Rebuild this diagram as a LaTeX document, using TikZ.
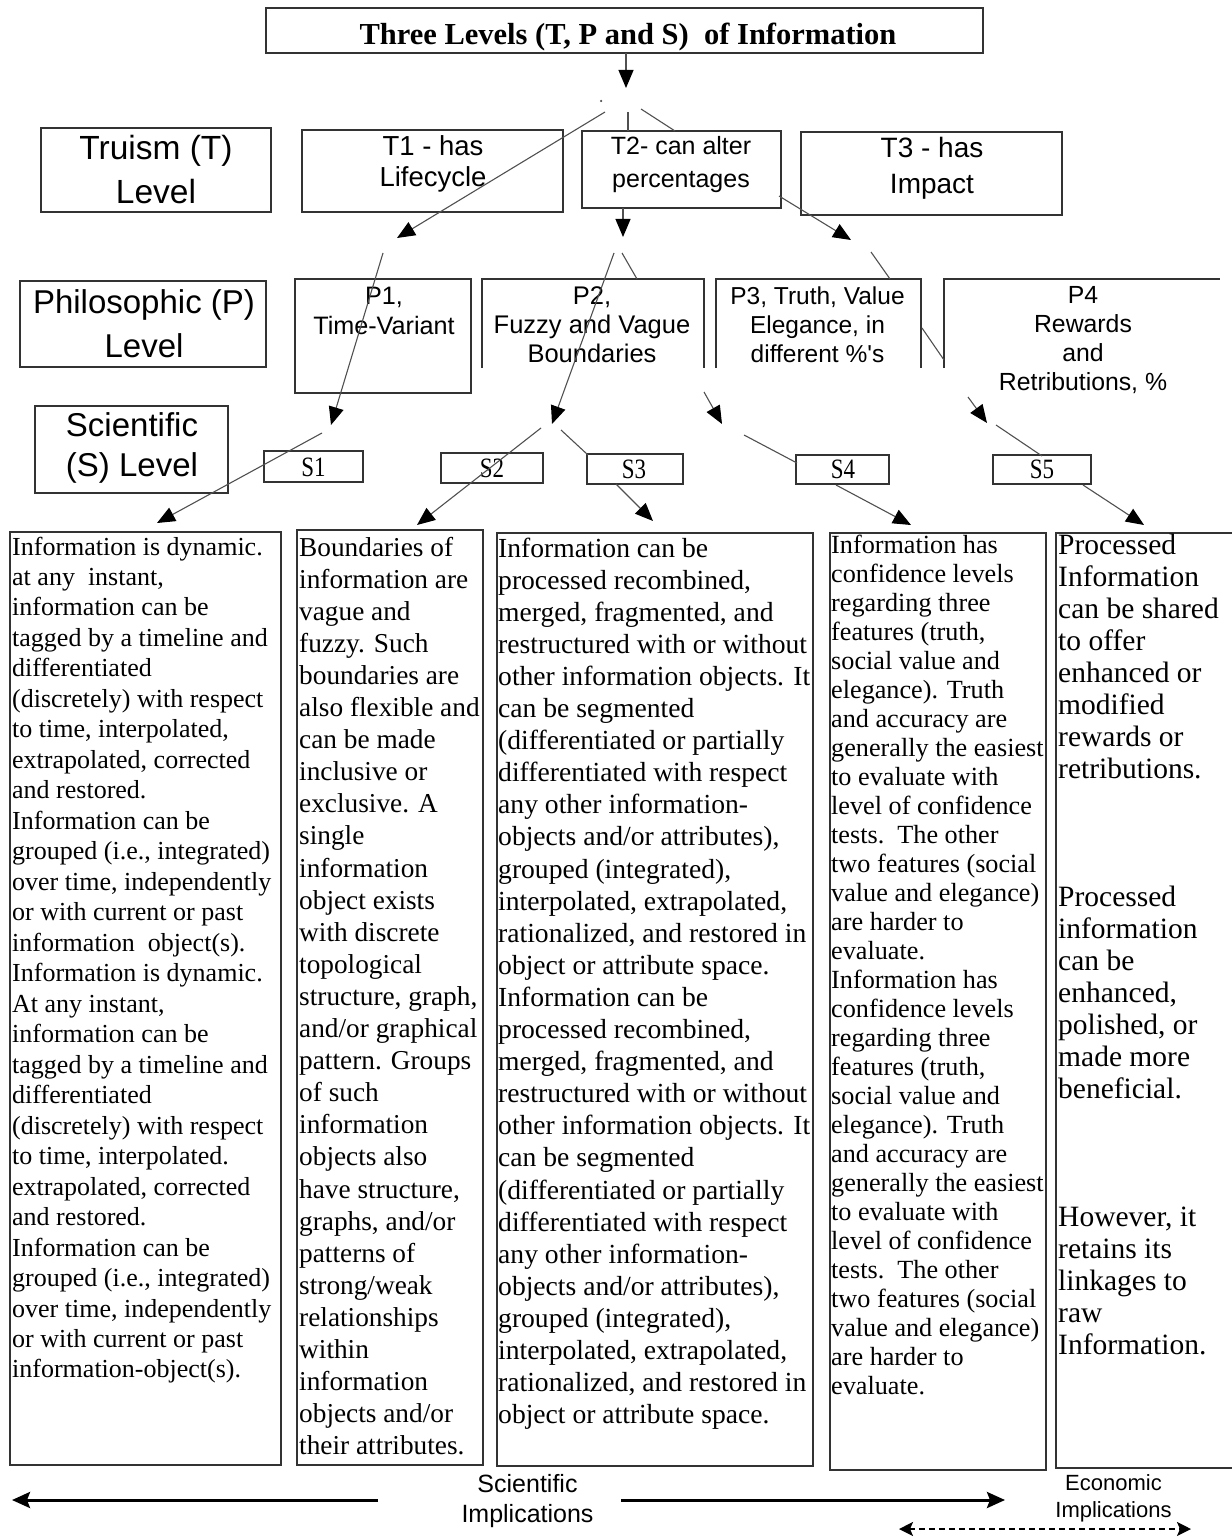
\documentclass[tikz,border=0pt]{standalone}
\usepackage{fontspec}
\setmainfont{Liberation Serif}
\newfontfamily\arialf{Liberation Sans}
\newfontfamily\narrowserif{Liberation Serif}[FakeStretch=0.82]
\usetikzlibrary{arrows.meta}
\definecolor{boxc}{HTML}{333333}
\definecolor{linec}{HTML}{505050}
\newcommand\setfs[2]{\fontsize{#1}{#2}\selectfont}
\newcommand\ctext[4]{\parbox[t]{#1pt}{\centering\setfs{#2}{#3}#4}}
\newcommand\ltext[4]{\parbox[t]{#1pt}{\raggedright\setfs{#2}{#3}#4}}
\tikzset{
  frame/.style={draw=boxc, line width=1.8pt, inner sep=0pt},
  openframe/.style={draw=boxc, line width=1.8pt},
  conn/.style={draw=linec, line width=1.1pt},
  arr/.style={conn, -{Triangle[length=18pt,width=15pt,color=black]}},
  label/.style={inner sep=0pt, anchor=base},
  sans/.style={label, font=\arialf},
  slabel/.style={label, font=\narrowserif\setfs{28}{30}},
  bigarr/.style={draw=black, line width=3pt, -{Stealth[length=18pt,width=16pt,inset=3pt]}},
  dasharr/.style={draw=black, line width=2pt, dash pattern=on 6pt off 4pt,
    {Stealth[length=14pt,width=14pt,inset=3pt]}-{Stealth[length=14pt,width=14pt,inset=3pt]}}
}
\begin{document}
\begin{tikzpicture}[x=1pt,y=-1pt]
\useasboundingbox (0,0) rectangle (1231,1538);

% ---------- title ----------
\node[frame, minimum width=717pt, minimum height=45pt] (title) at (624.5,30.5) {};
\node[label, font=\bfseries\setfs{30.5}{36}] (titletxt) at (628,45) {Three Levels (T, P and S)\ \ of Information};

% ---------- T level ----------
\node[frame, minimum width=230pt, minimum height=84pt] (truism) at (156,170) {};
\node[sans] (truismtxt) at (156,160) {\ctext{230}{33.5}{44}{Truism (T)\\Level}};
\node[frame, minimum width=261pt, minimum height=82pt] (t1) at (432.5,171) {};
\node[sans] (t1txt) at (433,156) {\ctext{260}{27.5}{31}{T1 - has\\Lifecycle}};
\node[frame, minimum width=199pt, minimum height=77pt] (t2) at (681.5,169.5) {};
\node[sans] (t2txt) at (681,155) {\ctext{200}{25}{33}{T2- can alter\\percentages}};
\node[frame, minimum width=261pt, minimum height=83pt] (t3) at (931.5,173.5) {};
\node[sans] (t3txt) at (932,158) {\ctext{260}{28}{36}{T3 - has\\Impact}};

% ---------- P level ----------
\node[frame, minimum width=246pt, minimum height=86pt] (philo) at (143,324) {};
\node[sans] (philotxt) at (144,313) {\ctext{246}{33}{44}{Philosophic (P)\\Level}};
\node[frame, minimum width=176pt, minimum height=114pt] (p1) at (383,336) {};
\node[sans] (p1txt) at (384,304) {\ctext{176}{25.2}{30}{P1,\\Time-Variant}};
\draw[openframe] (482,368) -- (482,279) -- (704,279) -- (704,368);
\node[sans] (p2txt) at (592,304) {\ctext{222}{25.5}{29}{P2,\\Fuzzy and Vague\\Boundaries}};
\draw[openframe] (716,368) -- (716,279) -- (921,279) -- (921,368);
\node[sans] (p3txt) at (817.5,304) {\ctext{205}{24.5}{29}{P3, Truth, Value\\Elegance, in\\different \%'s}};
\draw[openframe] (944,368) -- (944,279) -- (1220,279);
\node[sans] (p4txt) at (1083,303) {\ctext{276}{24.8}{29.3}{P4\\Rewards\\and\\Retributions, \%}};

% ---------- S level ----------
\node[frame, minimum width=193pt, minimum height=87pt] (sci) at (131.5,449.5) {};
\node[sans] (scitxt) at (132,436) {\ctext{193}{33}{40}{Scientific\\(S) Level}};
\node[frame, minimum width=99pt, minimum height=31pt] (s1) at (313.5,466.5) {};
\node[slabel] (s1txt) at (313.5,476) {S1};
\node[frame, minimum width=102pt, minimum height=30pt] (s2) at (492,468) {};
\node[slabel] (s2txt) at (492,477) {S2};
\node[frame, minimum width=96pt, minimum height=30pt] (s3) at (635,469) {};
\node[slabel] (s3txt) at (634,478) {S3};
\node[frame, minimum width=93pt, minimum height=29pt] (s4) at (842.5,469.5) {};
\node[slabel] (s4txt) at (843,478) {S4};
\node[frame, minimum width=98pt, minimum height=29pt] (s5) at (1042,469.5) {};
\node[slabel] (s5txt) at (1042,478) {S5};

% ---------- big text boxes ----------
\node[frame, minimum width=271pt, minimum height=933pt] (b1) at (145.5,998.5) {};
\node[frame, minimum width=186pt, minimum height=935pt] (b2) at (390,997.5) {};
\node[frame, minimum width=316pt, minimum height=933pt] (b3) at (655,999.5) {};
\node[frame, minimum width=216pt, minimum height=937pt] (b4) at (938,1001.5) {};
\node[frame, minimum width=184pt, minimum height=935pt] (b5) at (1148,1000.5) {};

\node[label, anchor=base west] (b1txt) at (12,555) {\ltext{400}{26}{30.48}{%
Information is dynamic.\\
at any\ \ instant,\\
information can be\\
tagged by a timeline and\\
differentiated\\
(discretely) with respect\\
to time, interpolated,\\
extrapolated, corrected\\
and restored.\\
Information can be\\
grouped (i.e., integrated)\\
over time, independently\\
or with current or past\\
information\ \ object(s).\\
Information is dynamic.\\
At any instant,\\
information can be\\
tagged by a timeline and\\
differentiated\\
(discretely) with respect\\
to time, interpolated.\\
extrapolated, corrected\\
and restored.\\
Information can be\\
grouped (i.e., integrated)\\
over time, independently\\
or with current or past\\
information-object(s).}};

\node[label, anchor=base west] (b2txt) at (299,556) {\ltext{400}{27.3}{32.1}{%
Boundaries of\\
information are\\
vague and\\
fuzzy. Such\\
boundaries are\\
also flexible and\\
can be made\\
inclusive or\\
exclusive. A\\
single\\
information\\
object exists\\
with discrete\\
topological\\
structure, graph,\\
and/or graphical\\
pattern. Groups\\
of such\\
information\\
objects also\\
have structure,\\
graphs, and/or\\
patterns of\\
strong/weak\\
relationships\\
within\\
information\\
objects and/or\\
their attributes.}};

\node[label, anchor=base west] (b3txt) at (498,557) {\ltext{400}{27.6}{32.1}{%
Information can be\\
processed recombined,\\
merged, fragmented, and\\
restructured with or without\\
other information objects. It\\
can be segmented\\
(differentiated or partially\\
differentiated with respect\\
any other information-\\
objects and/or attributes),\\
grouped (integrated),\\
interpolated, extrapolated,\\
rationalized, and restored in\\
object or attribute space.\\
Information can be\\
processed recombined,\\
merged, fragmented, and\\
restructured with or without\\
other information objects. It\\
can be segmented\\
(differentiated or partially\\
differentiated with respect\\
any other information-\\
objects and/or attributes),\\
grouped (integrated),\\
interpolated, extrapolated,\\
rationalized, and restored in\\
object or attribute space.}};

\node[label, anchor=base west] (b4txt) at (831,553) {\ltext{400}{26.2}{29.03}{%
Information has\\
confidence levels\\
regarding three\\
features (truth,\\
social value and\\
elegance). Truth\\
and accuracy are\\
generally the easiest\\
to evaluate with\\
level of confidence\\
tests.\ \ The other\\
two features (social\\
value and elegance)\\
are harder to\\
evaluate.\\
Information has\\
confidence levels\\
regarding three\\
features (truth,\\
social value and\\
elegance). Truth\\
and accuracy are\\
generally the easiest\\
to evaluate with\\
level of confidence\\
tests.\ \ The other\\
two features (social\\
value and elegance)\\
are harder to\\
evaluate.}};

\node[label, anchor=base west] (b5txt) at (1058,554) {\ltext{400}{29.5}{32}{%
Processed\\
Information\\
can be shared\\
to offer\\
enhanced or\\
modified\\
rewards or\\
retributions.\\[96pt]
Processed\\
information\\
can be\\
enhanced,\\
polished, or\\
made more\\
beneficial.\\[96pt]
However, it\\
retains its\\
linkages to\\
raw\\
Information.}};

% ---------- connectors ----------
\coordinate (titbot) at (626,53);
\coordinate (hubtip) at (626,88);
\node[circle, fill=linec, inner sep=0pt, minimum size=2.5pt] (hubdot) at (601,101) {};
\coordinate (h1) at (605,112);
\coordinate (h2) at (628,112);
\coordinate (h3) at (641,109);
\coordinate (t1tip) at (397,238);
\coordinate (t2top) at (628,131);
\coordinate (t2topr) at (675,131);
\coordinate (t2bot) at (623,208);
\coordinate (t2tip) at (623,237);
\coordinate (t2right) at (779,196);
\coordinate (t3tip) at (851,240);

\draw[arr] (titbot) -- (hubtip);
\draw[arr] (h1) -- (t1tip);
\draw[conn] (h2) -- (t2top);
\draw[conn] (h3) -- (t2topr);
\draw[arr] (t2bot) -- (t2tip);
\draw[arr] (t2right) -- (t3tip);

\coordinate (a1) at (383,253);
\coordinate (p1tip) at (331,425);
\coordinate (a2) at (614,253);
\coordinate (p2tip) at (552,424);
\coordinate (a3) at (622,253);
\coordinate (p2top) at (637,279);
\coordinate (a4) at (871,252);
\coordinate (p3top) at (890,279);
\coordinate (p3r) at (922,328);
\coordinate (p4l) at (944,360);
\coordinate (a5) at (704,392);
\coordinate (p3tip) at (722,424);
\coordinate (a6) at (968,397);
\coordinate (p4tip) at (987,423);

\draw[arr] (a1) -- (p1tip);
\draw[arr] (a2) -- (p2tip);
\draw[conn] (a3) -- (p2top);
\draw[conn] (a4) -- (p3top);
\draw[conn] (p3r) -- (p4l);
\draw[arr] (a5) -- (p3tip);
\draw[arr] (a6) -- (p4tip);

\coordinate (c1) at (322,433);
\coordinate (b1tip) at (157,523);
\coordinate (c2) at (541,428);
\coordinate (b2tip) at (417,525);
\coordinate (c3) at (561,430);
\coordinate (s3tl) at (588,455);
\coordinate (c4) at (616,484);
\coordinate (b3tip) at (653,521);
\coordinate (c5) at (744,435);
\coordinate (s4l) at (797,463);
\coordinate (c6) at (836,485);
\coordinate (b4tip) at (911,525);
\coordinate (c7) at (996,425);
\coordinate (s5t) at (1042,456);
\coordinate (c8) at (1083,485);
\coordinate (b5tip) at (1144,525);

\draw[arr] (c1) -- (b1tip);
\draw[arr] (c2) -- (b2tip);
\draw[conn] (c3) -- (s3tl);
\draw[arr] (c4) -- (b3tip);
\draw[conn] (c5) -- (s4l);
\draw[arr] (c6) -- (b4tip);
\draw[conn] (c7) -- (s5t);
\draw[arr] (c8) -- (b5tip);

% ---------- bottom ----------
\node[sans] (sciimp) at (527.5,1492) {\ctext{200}{25}{30}{Scientific\\Implications}};
\node[sans] (ecoimp) at (1113.5,1490) {\ctext{200}{22}{27}{Economic\\Implications}};
\coordinate (la) at (378,1500);
\coordinate (lb) at (12,1500);
\coordinate (ra) at (621,1500);
\coordinate (rb) at (1005,1500);
\coordinate (da) at (899,1529);
\coordinate (db) at (1191,1529);
\draw[bigarr] (la) -- (lb);
\draw[bigarr] (ra) -- (rb);
\draw[dasharr] (da) -- (db);
\end{tikzpicture}
\end{document}
